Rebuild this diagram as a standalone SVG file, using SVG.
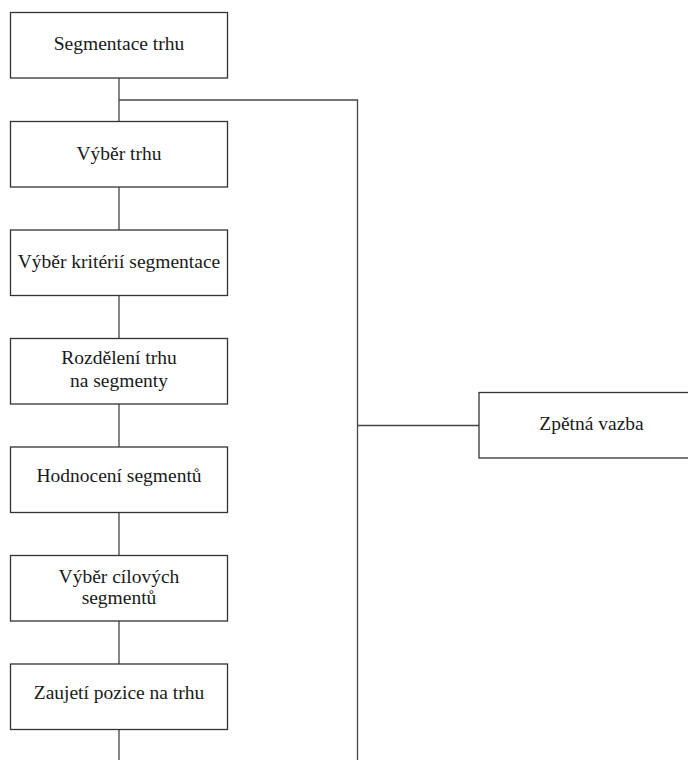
<svg xmlns="http://www.w3.org/2000/svg" width="688" height="760" viewBox="0 0 688 760">
<style>
.box{fill:#fff;stroke:#333;stroke-width:1.3}
.t{font-family:'Liberation Serif','Times New Roman',Times,'DejaVu Serif',serif;font-size:19.5px;fill:#1a1a1a;text-anchor:middle}
.c{fill:none;stroke:#444;stroke-width:1.3}
</style>
<rect width="688" height="760" fill="#fff"/>
<g id="connectors">
<path class="c" d="M119 78V122M119 187V230M119 295V339M119 404V447M119 512V556M119 621V664M119 729V760"/>
<path class="c" d="M119 100H357.5V760M357.5 425.5H479"/>
</g>
<g id="n1"><rect class="box" x="10.5" y="12.5" width="217" height="65.5"/><text class="t" x="119" y="50">Segmentace trhu</text></g>
<g id="n2"><rect class="box" x="10.5" y="121.5" width="217" height="65.5"/><text class="t" x="119" y="160">Výběr trhu</text></g>
<g id="n3"><rect class="box" x="10.5" y="230" width="217" height="65.5"/><text class="t" x="119" y="268">Výběr kritérií segmentace</text></g>
<g id="n4"><rect class="box" x="10.5" y="338.5" width="217" height="65.5"/><text class="t" x="119" y="364">Rozdělení trhu</text><text class="t" x="119" y="387">na segmenty</text></g>
<g id="n5"><rect class="box" x="10.5" y="447" width="217" height="65.5"/><text class="t" x="119" y="482">Hodnocení segmentů</text></g>
<g id="n6"><rect class="box" x="10.5" y="555.5" width="217" height="65.5"/><text class="t" x="119" y="583">Výběr cílových</text><text class="t" x="119" y="604">segmentů</text></g>
<g id="n7"><rect class="box" x="10.5" y="664" width="217" height="65.5"/><text class="t" x="119" y="699">Zaujetí pozice na trhu</text></g>
<g id="n8"><rect class="box" x="479" y="392.5" width="226" height="65.5"/><text class="t" x="591.5" y="430">Zpětná vazba</text></g>
</svg>
